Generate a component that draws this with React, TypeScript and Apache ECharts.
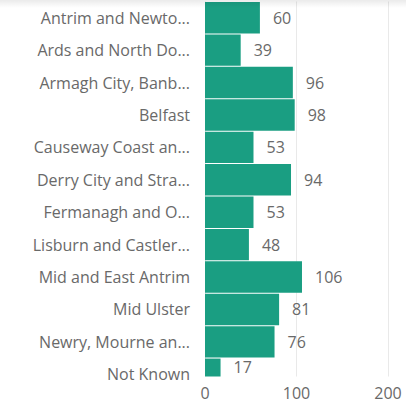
import React, { useEffect, useRef } from "react";
import * as echarts from "echarts";

const categories = [
  "Antrim and Newto...",
  "Ards and North Do...",
  "Armagh City, Banb...",
  "Belfast",
  "Causeway Coast an...",
  "Derry City and Stra...",
  "Fermanagh and O...",
  "Lisburn and Castler...",
  "Mid and East Antrim",
  "Mid Ulster",
  "Newry, Mourne an...",
  "Not Known",
];
const values = [60, 39, 96, 98, 53, 94, 53, 48, 106, 81, 76, 17];
const xTicks = [0, 100, 200];

const FONT = "'Open Sans', 'Noto Sans', sans-serif";
const GRAY = "#696969";
const FS = 16;

export default function App() {
  const ref = useRef<HTMLDivElement>(null);
  useEffect(() => {
    if (!ref.current) return;
    const chart = echarts.init(ref.current, undefined, { renderer: "svg" });
    const xMin = xTicks[0];
    const xMax = xTicks[xTicks.length - 1];
    const interval = xTicks[1] - xTicks[0];
    const lastIdx = values.length - 1;
    const barData = values.map((v, i) =>
      i === lastIdx ? { value: v, label: { offset: [0, -7] } } : v
    );
    chart.setOption({
      animation: false,
      grid: [
        { left: 205, right: 18, top: 1.5, height: 389, containLabel: false },
        { left: 205, right: 18, top: 1.5, height: 375, containLabel: false },
      ],
      xAxis: [
        {
          type: "value",
          gridIndex: 0,
          min: xMin,
          max: xMax,
          interval,
          z: 0,
          axisLine: { show: false },
          axisTick: { show: false },
          axisLabel: { show: false },
          splitLine: { show: true, lineStyle: { color: "#e9e9e9", width: 1 } },
        },
        {
          type: "value",
          gridIndex: 1,
          min: xMin,
          max: xMax,
          interval,
          z: 10,
          axisLine: { show: false },
          axisTick: { show: false },
          splitLine: { show: false },
          axisLabel: {
            show: true,
            color: GRAY,
            fontFamily: FONT,
            fontSize: FS,
            margin: 8,
          },
        },
      ],
      yAxis: [
        {
          type: "category",
          gridIndex: 0,
          data: categories,
          inverse: true,
          axisLine: { show: false },
          axisTick: { show: false },
          splitLine: { show: false },
          axisLabel: {
            color: GRAY,
            fontFamily: FONT,
            fontSize: FS,
            margin: 15,
          },
        },
        { type: "value", gridIndex: 1, show: false },
      ],
      series: [
        {
          type: "bar",
          xAxisIndex: 0,
          yAxisIndex: 0,
          data: barData,
          barCategoryGap: "3%",
          z: 2,
          itemStyle: { color: "#1a9e82" },
          label: {
            show: true,
            position: "right",
            distance: 13,
            color: GRAY,
            fontFamily: FONT,
            fontSize: FS,
          },
        },
      ],
      graphic: [
        {
          type: "rect",
          z: 5,
          silent: true,
          shape: { x: 198, y: 376.5, width: 208, height: 30 },
          style: { fill: "#ffffff" },
        },
        {
          type: "rect",
          z: 20,
          silent: true,
          shape: { x: 0, y: 0, width: 406, height: 8 },
          style: {
            fill: new echarts.graphic.LinearGradient(0, 0, 0, 1, [
              { offset: 0, color: "rgba(0,0,0,0.08)" },
              { offset: 1, color: "rgba(0,0,0,0)" },
            ]),
          },
        },
      ],
    });
    return () => chart.dispose();
  }, []);
  return (
    <div
      ref={ref}
      style={{ position: "absolute", left: 0, top: 0, width: 406, height: 403 }}
    />
  );
}
